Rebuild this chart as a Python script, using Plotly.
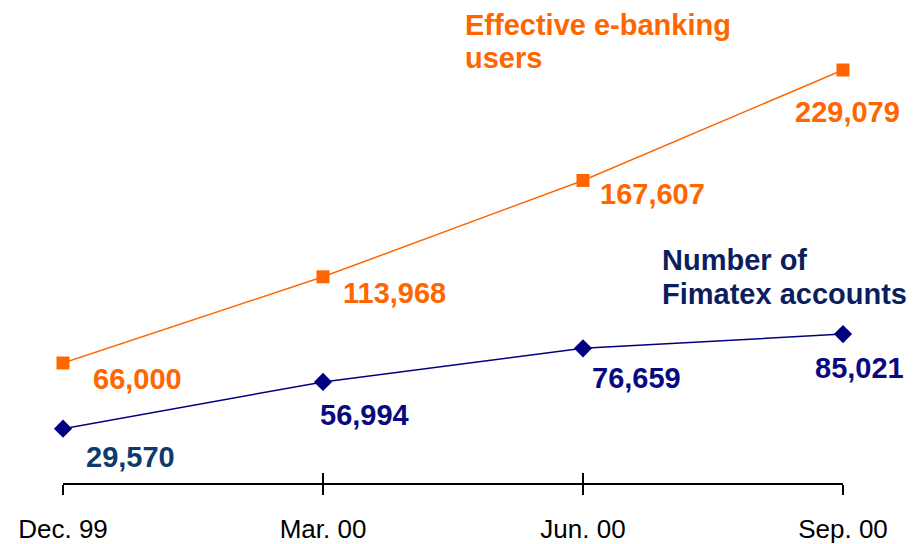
import plotly.graph_objects as go

# quarter-end dates
periods = ["Dec. 99", "Mar. 00", "Jun. 00", "Sep. 00"]
ebanking_users = [66000, 113968, 167607, 229079]
fimatex_accounts = [29570, 56994, 76659, 85021]

ORANGE = "#FF6600"
NAVY = "#000080"
FONT = "Arial, Liberation Sans, sans-serif"

fig = go.Figure()
fig.add_trace(go.Scatter(
    x=periods, y=ebanking_users, mode="lines+markers",
    line=dict(color=ORANGE, width=1.5),
    marker=dict(symbol="square", size=13, color=ORANGE),
    xaxis="x", yaxis="y", hoverinfo="x+y", cliponaxis=False))
# second series sits on its own (hidden) axes; x2 also draws the upper tick half
fig.add_trace(go.Scatter(
    x=periods, y=fimatex_accounts, mode="lines+markers",
    line=dict(color=NAVY, width=1.5),
    marker=dict(symbol="diamond", size=14, color=NAVY),
    xaxis="x2", yaxis="y2", hoverinfo="x+y", cliponaxis=False))

# label offsets (pixels) from each marker
orange_shift = [(74, -16), (71, -16), (69, -14), (4, -42)]
navy_shift = [(67, -28), (41, -33), (53, -30), (16, -34)]
navy_colors = ["#0D3B6E", "#0A0A80", "#0A0A80", "#0A0A80"]

ann = []
for i, (p, v) in enumerate(zip(periods, ebanking_users)):
    dx, dy = orange_shift[i]
    ann.append(dict(x=p, y=v, xref="x", yref="y", text=f"<b>{v:,}</b>",
                    showarrow=False, xshift=dx, yshift=dy,
                    font=dict(family=FONT, size=29, color=ORANGE)))
for i, (p, v) in enumerate(zip(periods, fimatex_accounts)):
    dx, dy = navy_shift[i]
    ann.append(dict(x=p, y=v, xref="x2", yref="y2", text=f"<b>{v:,}</b>",
                    showarrow=False, xshift=dx, yshift=dy,
                    font=dict(family=FONT, size=29, color=navy_colors[i])))

# series titles, one line each
W, H, L = 780, 483, 63
def title(text, px, py, color):
    return dict(x=(px - L) / W, y=1 - py / H, xref="paper", yref="paper",
                xanchor="left", yanchor="middle", showarrow=False,
                text=f"<b>{text}</b>", font=dict(family=FONT, size=29, color=color))

ann += [
    title("Effective e-banking", 463, 25, ORANGE),
    title("users", 463, 58, ORANGE),
    title("Number of", 660, 260, "#0C1E5E"),
    title("Fimatex accounts", 660, 294, "#0C1E5E"),
]

fig.update_layout(
    width=923, height=544,
    template="none",
    paper_bgcolor="white", plot_bgcolor="white",
    margin=dict(l=63, r=80, t=0, b=61),
    showlegend=False,
    annotations=ann,
    xaxis=dict(type="category", range=[0, 3], showgrid=False, zeroline=False,
               showline=True, linecolor="black", linewidth=2,
               ticks="outside", ticklen=10, tickwidth=1.5, tickcolor="black",
               ticklabelstandoff=12, automargin=False,
               tickfont=dict(family=FONT, size=26, color="black")),
    xaxis2=dict(type="category", range=[0, 3], overlaying="x", anchor="y2",
                side="bottom", showticklabels=False,
                ticks="inside", ticklen=10, tickwidth=1.5, tickcolor="black",
                showgrid=False, zeroline=False, showline=False),
    yaxis=dict(range=[-799, 268042], visible=False, showgrid=False, zeroline=False),
    yaxis2=dict(range=[-2248, 280771], overlaying="y", visible=False,
                showgrid=False, zeroline=False),
)

fig.write_html("out.html", config={"displayModeBar": False},
               post_script="document.body.style.margin = '0';")
